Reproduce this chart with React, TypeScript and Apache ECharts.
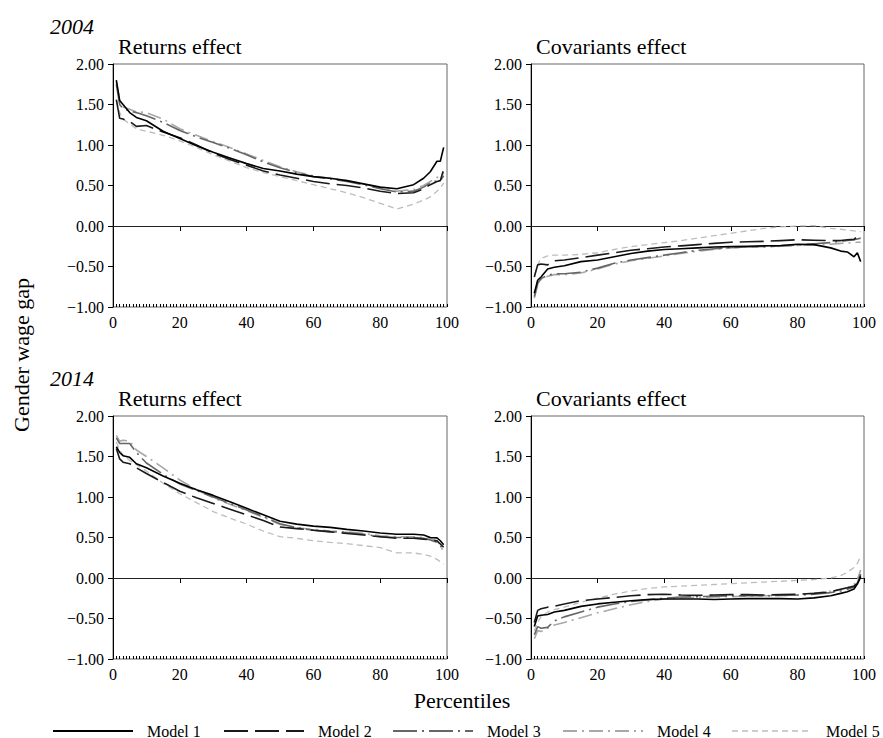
import React, { useEffect, useRef } from "react";
import * as echarts from "echarts";

const FONT = "Liberation Serif";

const PCT = [1, 2, 3, 5, 7, 10, 15, 20, 25, 30, 35, 40, 45, 50, 55, 60, 65, 70, 75, 80, 85, 90, 93, 95, 97, 98, 99];
const MODELS = ["Model 1", "Model 2", "Model 3", "Model 4", "Model 5"];
const Y_TICKS = [-1, -0.5, 0, 0.5, 1, 1.5, 2];
const X_TICKS = [0, 20, 40, 60, 80, 100];

// 2004 returns effect
const RET04_M1 = [1.80, 1.55, 1.50, 1.40, 1.34, 1.30, 1.17, 1.08, 0.99, 0.91, 0.84, 0.77, 0.71, 0.68, 0.64, 0.61, 0.59, 0.56, 0.52, 0.48, 0.46, 0.51, 0.59, 0.67, 0.80, 0.80, 0.97];
const RET04_M2 = [1.56, 1.33, 1.32, 1.29, 1.23, 1.24, 1.16, 1.09, 1.00, 0.90, 0.82, 0.75, 0.68, 0.63, 0.59, 0.55, 0.52, 0.50, 0.47, 0.43, 0.40, 0.41, 0.46, 0.51, 0.55, 0.56, 0.70];
const RET04_M3 = [1.75, 1.50, 1.45, 1.42, 1.40, 1.36, 1.28, 1.18, 1.10, 1.03, 0.96, 0.88, 0.79, 0.72, 0.66, 0.61, 0.58, 0.55, 0.51, 0.46, 0.42, 0.43, 0.48, 0.53, 0.56, 0.56, 0.62];
const RET04_M4 = [1.78, 1.55, 1.47, 1.44, 1.41, 1.40, 1.32, 1.20, 1.12, 1.04, 0.97, 0.89, 0.81, 0.73, 0.67, 0.62, 0.59, 0.56, 0.52, 0.47, 0.43, 0.45, 0.50, 0.55, 0.60, 0.60, 0.66];
const RET04_M5 = [1.55, 1.40, 1.32, 1.26, 1.20, 1.17, 1.12, 1.05, 0.97, 0.88, 0.80, 0.72, 0.66, 0.61, 0.56, 0.51, 0.46, 0.41, 0.35, 0.28, 0.21, 0.27, 0.32, 0.36, 0.43, 0.47, 0.53];

// 2004 covariants effect
const COV04_M1 = [-0.83, -0.67, -0.63, -0.53, -0.51, -0.49, -0.44, -0.42, -0.38, -0.34, -0.31, -0.29, -0.28, -0.27, -0.26, -0.255, -0.25, -0.245, -0.24, -0.225, -0.23, -0.27, -0.31, -0.32, -0.38, -0.33, -0.44];
const COV04_M2 = [-0.63, -0.48, -0.47, -0.48, -0.43, -0.42, -0.39, -0.36, -0.33, -0.30, -0.28, -0.26, -0.245, -0.23, -0.215, -0.20, -0.195, -0.19, -0.18, -0.17, -0.175, -0.18, -0.18, -0.17, -0.165, -0.13, -0.165];
const COV04_M3 = [-0.87, -0.71, -0.65, -0.61, -0.59, -0.59, -0.57, -0.52, -0.46, -0.42, -0.39, -0.36, -0.33, -0.30, -0.28, -0.265, -0.26, -0.255, -0.245, -0.235, -0.22, -0.205, -0.19, -0.18, -0.17, -0.16, -0.15];
const COV04_M4 = [-0.89, -0.73, -0.66, -0.62, -0.60, -0.60, -0.58, -0.53, -0.47, -0.43, -0.40, -0.37, -0.34, -0.31, -0.29, -0.27, -0.26, -0.255, -0.25, -0.24, -0.235, -0.225, -0.215, -0.21, -0.205, -0.20, -0.20];
const COV04_M5 = [-0.61, -0.48, -0.40, -0.37, -0.36, -0.36, -0.35, -0.33, -0.29, -0.255, -0.23, -0.205, -0.18, -0.15, -0.12, -0.09, -0.06, -0.03, -0.01, 0.0, 0.005, -0.03, -0.04, -0.05, -0.06, -0.065, -0.07];

// 2014 returns effect
const RET14_M1 = [1.62, 1.55, 1.51, 1.49, 1.41, 1.36, 1.26, 1.17, 1.09, 1.02, 0.94, 0.86, 0.78, 0.70, 0.665, 0.64, 0.625, 0.60, 0.58, 0.555, 0.54, 0.54, 0.53, 0.50, 0.495, 0.46, 0.41];
const RET14_M2 = [1.60, 1.47, 1.43, 1.41, 1.36, 1.29, 1.18, 1.07, 0.99, 0.92, 0.85, 0.78, 0.71, 0.63, 0.61, 0.59, 0.57, 0.55, 0.53, 0.51, 0.49, 0.49, 0.48, 0.47, 0.46, 0.42, 0.38];
const RET14_M3 = [1.73, 1.66, 1.66, 1.66, 1.55, 1.42, 1.28, 1.16, 1.08, 1.00, 0.92, 0.84, 0.76, 0.67, 0.62, 0.59, 0.575, 0.56, 0.54, 0.51, 0.50, 0.50, 0.49, 0.47, 0.44, 0.40, 0.34];
const RET14_M4 = [1.76, 1.69, 1.70, 1.69, 1.58, 1.50, 1.36, 1.21, 1.09, 0.99, 0.91, 0.83, 0.75, 0.66, 0.62, 0.60, 0.58, 0.57, 0.55, 0.52, 0.51, 0.51, 0.50, 0.49, 0.45, 0.41, 0.32];
const RET14_M5 = [1.68, 1.58, 1.52, 1.45, 1.40, 1.32, 1.17, 1.04, 0.93, 0.82, 0.74, 0.665, 0.58, 0.51, 0.49, 0.46, 0.44, 0.425, 0.40, 0.375, 0.31, 0.31, 0.29, 0.27, 0.23, 0.20, 0.17];

// 2014 covariants effect
const COV14_M1 = [-0.60, -0.47, -0.46, -0.45, -0.42, -0.40, -0.35, -0.32, -0.30, -0.28, -0.265, -0.26, -0.26, -0.26, -0.265, -0.26, -0.255, -0.255, -0.255, -0.26, -0.245, -0.22, -0.19, -0.17, -0.135, -0.075, 0.01];
const COV14_M2 = [-0.55, -0.40, -0.38, -0.36, -0.35, -0.32, -0.28, -0.26, -0.24, -0.22, -0.205, -0.20, -0.21, -0.215, -0.21, -0.205, -0.205, -0.21, -0.205, -0.20, -0.19, -0.17, -0.14, -0.12, -0.10, -0.06, 0.03];
const COV14_M3 = [-0.70, -0.60, -0.62, -0.61, -0.53, -0.48, -0.42, -0.36, -0.32, -0.29, -0.27, -0.25, -0.235, -0.23, -0.225, -0.22, -0.22, -0.22, -0.215, -0.21, -0.20, -0.18, -0.16, -0.14, -0.11, -0.06, 0.05];
const COV14_M4 = [-0.75, -0.65, -0.66, -0.62, -0.58, -0.55, -0.49, -0.43, -0.38, -0.33, -0.29, -0.26, -0.245, -0.24, -0.235, -0.23, -0.225, -0.22, -0.215, -0.21, -0.19, -0.16, -0.14, -0.12, -0.08, -0.02, 0.10];
const COV14_M5 = [-0.65, -0.55, -0.48, -0.42, -0.39, -0.36, -0.30, -0.25, -0.20, -0.16, -0.13, -0.11, -0.10, -0.09, -0.08, -0.07, -0.06, -0.05, -0.04, -0.03, -0.02, 0.0, 0.03, 0.07, 0.13, 0.18, 0.27];

const PANELS = [
  [RET04_M1, RET04_M2, RET04_M3, RET04_M4, RET04_M5],
  [COV04_M1, COV04_M2, COV04_M3, COV04_M4, COV04_M5],
  [RET14_M1, RET14_M2, RET14_M3, RET14_M4, RET14_M5],
  [COV14_M1, COV14_M2, COV14_M3, COV14_M4, COV14_M5],
];

const LINE_STYLES: any[] = [
  { color: "#000000", width: 1.6, type: "solid" },
  { color: "#1a1a1a", width: 1.6, type: [24, 7] },
  { color: "#666666", width: 1.6, type: [24, 5, 2, 5] },
  { color: "#a8a8a8", width: 1.6, type: [14, 5, 2, 5] },
  { color: "#bdbdbd", width: 1.3, type: [6, 4] },
];

const LEGEND_LINE_X = [53, 224, 393, 563, 732];
const LEGEND_LINE_W = 80;
const LEGEND_TEXT_GAP = 14;
const LEGEND_Y = 731;

const GRIDS = [
  { left: 113, top: 64, width: 334, height: 243 },
  { left: 531, top: 64, width: 333, height: 243 },
  { left: 113, top: 416, width: 334, height: 243 },
  { left: 531, top: 416, width: 333, height: 243 },
];

const fmtY = (v: number) => (v < 0 ? "\u2212" : "") + Math.abs(v).toFixed(2);

export default function App() {
  const ref = useRef<HTMLDivElement>(null);
  useEffect(() => {
    if (!ref.current) return;
    const chart = echarts.init(ref.current, undefined, { renderer: "svg" });

    const grid = GRIDS.map((g) => ({
      ...g,
      show: true,
      borderColor: "#666",
      borderWidth: 1,
      backgroundColor: "transparent",
      containLabel: false,
    }));

    const xAxis: any[] = [];
    const yAxis: any[] = [];
    GRIDS.forEach((_, i) => {
      xAxis.push({
        type: "value",
        gridIndex: i,
        min: X_TICKS[0],
        max: X_TICKS[X_TICKS.length - 1],
        interval: 20,
        axisLine: { show: true, lineStyle: { color: "#000", width: 1 } },
        axisTick: { show: true, inside: false, length: 5, lineStyle: { color: "#000", width: 1 } },
        axisLabel: { show: true, margin: 7, color: "#000", fontFamily: FONT, fontSize: 16 },
        splitLine: { show: false },
      });
      xAxis.push({
        type: "value",
        gridIndex: i,
        min: 0,
        max: 100,
        interval: 1,
        position: "bottom",
        axisLine: { show: false },
        axisTick: { show: true, inside: true, length: 3, lineStyle: { color: "#000", width: 1 } },
        axisLabel: { show: false },
        splitLine: { show: false },
      });
      yAxis.push({
        type: "value",
        gridIndex: i,
        min: Y_TICKS[0],
        max: Y_TICKS[Y_TICKS.length - 1],
        interval: 0.5,
        axisLine: { show: true, lineStyle: { color: "#000", width: 1 } },
        axisTick: { show: true, inside: false, length: 5, lineStyle: { color: "#000", width: 1 } },
        axisLabel: { show: true, margin: 9, color: "#000", fontFamily: FONT, fontSize: 16, formatter: fmtY },
        splitLine: { show: false },
      });
    });

    const series: any[] = [];
    PANELS.forEach((panel, gi) => {
      panel.forEach((vals, mi) => {
        const s: any = {
          type: "line",
          name: MODELS[mi],
          xAxisIndex: gi * 2,
          yAxisIndex: gi,
          data: PCT.map((p, k) => [p, vals[k]]),
          symbol: "none",
          showSymbol: false,
          smooth: false,
          lineStyle: { ...LINE_STYLES[mi] },
          itemStyle: { color: LINE_STYLES[mi].color },
          z: 10 - mi,
        };
        if (mi === 0) {
          s.markLine = {
            silent: true,
            symbol: "none",
            label: { show: false },
            lineStyle: { color: "#222", type: "solid", width: 1 },
            data: [{ yAxis: 0 }],
          };
        }
        series.push(s);
      });
    });

    const textEl = (text: string, x: number, y: number, size: number, extra: any = {}) => ({
      type: "text",
      x,
      y,
      style: {
        text,
        fill: "#000",
        fontFamily: FONT,
        fontSize: size,
        textAlign: "left",
        textVerticalAlign: "middle",
        ...extra,
      },
    });

    const legendEls: any[] = [];
    MODELS.forEach((m, i) => {
      const ls = LINE_STYLES[i];
      const x0 = LEGEND_LINE_X[i];
      legendEls.push({
        type: "line",
        shape: { x1: x0, y1: LEGEND_Y, x2: x0 + LEGEND_LINE_W, y2: LEGEND_Y },
        style: {
          stroke: ls.color,
          lineWidth: i === 4 ? 1.6 : 2.2,
          lineDash: ls.type === "solid" ? null : ls.type,
        },
      });
      legendEls.push(textEl(m, x0 + LEGEND_LINE_W + LEGEND_TEXT_GAP, LEGEND_Y, 16));
    });

    const option: any = {
      animation: false,
      backgroundColor: "#fff",
      grid,
      xAxis,
      yAxis,
      series,
      graphic: [
        textEl("2004", 50, 26, 22, { fontStyle: "italic" }),
        textEl("Returns effect", 118, 46, 22),
        textEl("Covariants effect", 536, 46, 22),
        textEl("2014", 50, 378, 22, { fontStyle: "italic" }),
        textEl("Returns effect", 118, 398, 22),
        textEl("Covariants effect", 536, 398, 22),
        {
          type: "text",
          x: 21,
          y: 355,
          rotation: Math.PI / 2,
          style: {
            text: "Gender wage gap",
            fill: "#000",
            fontFamily: FONT,
            fontSize: 22,
            textAlign: "center",
            textVerticalAlign: "middle",
          },
        },
        textEl("Percentiles", 462, 700, 22, { textAlign: "center" }),
        ...legendEls,
      ],
    };

    chart.setOption(option);
    return () => chart.dispose();
  }, []);

  return (
    <div
      ref={ref}
      style={{ position: "fixed", left: 0, top: 0, width: 883, height: 738, background: "#fff" }}
    />
  );
}
